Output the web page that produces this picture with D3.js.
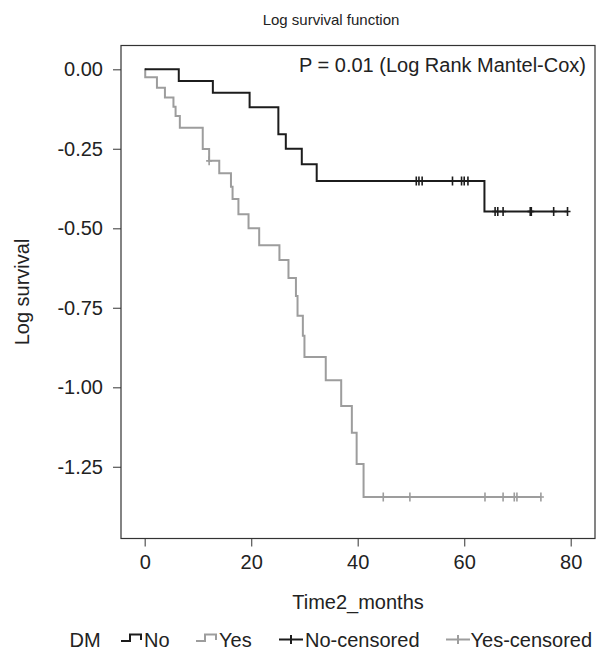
<!DOCTYPE html>
<html>
<head>
<meta charset="utf-8">
<script src="https://cdn.jsdelivr.net/npm/d3@7"></script>
<style>
  html, body { margin: 0; padding: 0; background: #fff; }
  svg { display: block; font-family: "Liberation Sans", Arial, sans-serif; }
</style>
</head>
<body>
<svg id="chart" width="606" height="654"></svg>
<script>
// ---- data ----
const noTimes   = [0, 6.4, 12.8, 19.7, 25.1, 26.5, 29.5, 32.3, 63.8];
const noLogSurv = [0, -0.037, -0.074, -0.119, -0.204, -0.250, -0.299, -0.351, -0.447];
const noEnd = 79.4;
const yesTimes   = [0, 0.1, 2.3, 3.8, 5.4, 5.8, 6.6, 10.9, 12.1, 14.0, 16.2, 16.5, 17.6, 19.5, 21.5, 25.3, 27.0, 28.4, 28.7, 29.7, 30.0, 34.0, 36.9, 38.9, 39.8, 41.1];
const yesLogSurv = [0, -0.025, -0.058, -0.089, -0.118, -0.147, -0.184, -0.251, -0.288, -0.327, -0.369, -0.408, -0.456, -0.500, -0.553, -0.600, -0.656, -0.713, -0.775, -0.838, -0.905, -0.978, -1.059, -1.143, -1.241, -1.345];
const yesEnd = 74.4;
const noCensored  = [51.0, 51.5, 52.1, 57.8, 59.5, 60.0, 60.7, 65.8, 66.3, 67.3, 72.4, 72.6, 76.8, 79.4];
const yesCensored = [12.1, 44.8, 49.8, 63.9, 67.3, 69.4, 69.9, 74.4];
const xTicks = [0, 20, 40, 60, 80];
const yTicks = [0, -0.25, -0.5, -0.75, -1.0, -1.25];
const legendLabels = ["No", "Yes", "No-censored", "Yes-censored"];

// ---- layout ----
const L = 121, R = 595, T = 45.5, B = 538.5;
const black = "#1c1c1c", gray = "#9d9d9d", textCol = "#222";

const svg = d3.select("#chart");
const x = d3.scaleLinear().domain([-4.45, 84.56]).range([L, R]);
const y = d3.scaleLinear().domain([0.0748, -1.4755]).range([T, B]);

// title
svg.append("text").attr("x", 331).attr("y", 25).attr("text-anchor", "middle")
  .attr("font-size", 15).attr("fill", textCol).text("Log survival function");

// axes
const fmt = d => d3.format(".2f")(d).replace("\u2212", "-");
const yAxis = svg.append("g").attr("transform", `translate(${L},0)`)
  .call(d3.axisLeft(y).tickValues(yTicks).tickFormat(fmt).tickSize(8).tickPadding(10));
const xAxis = svg.append("g").attr("transform", `translate(0,${B})`)
  .call(d3.axisBottom(x).tickValues(xTicks).tickFormat(d3.format("d")).tickSize(8).tickPadding(8.5));
[yAxis, xAxis].forEach(g => {
  g.select(".domain").remove();
  g.selectAll(".tick line").attr("stroke", "#555").attr("stroke-width", 1.2);
  g.selectAll(".tick text").attr("font-size", 20).attr("fill", textCol)
    .attr("font-family", '"Liberation Sans", Arial, sans-serif');
});

// frame
svg.append("rect").attr("x", L).attr("y", T).attr("width", R - L).attr("height", B - T)
  .attr("fill", "none").attr("stroke", "#333").attr("stroke-width", 1.2);

// axis titles
svg.append("text").attr("x", (L + R) / 2).attr("y", 609).attr("text-anchor", "middle")
  .attr("font-size", 20).attr("fill", textCol).text("Time2_months");
svg.append("text").attr("transform", `translate(29,${(T + B) / 2}) rotate(-90)`)
  .attr("text-anchor", "middle").attr("font-size", 20).attr("fill", textCol).text("Log survival");

// P-value
svg.append("text").attr("x", 586).attr("y", 72).attr("text-anchor", "end")
  .attr("font-size", 20).attr("fill", textCol).text("P = 0.01 (Log Rank Mantel-Cox)");

// curves
const line = d3.line().x(d => x(d[0])).y(d => y(d[1])).curve(d3.curveStepAfter);
function pts(times, vals, end) {
  const p = times.map((t, i) => [t, vals[i]]);
  p.push([end, vals[vals.length - 1]]);
  return p;
}
function levelAt(times, vals, t) {
  const i = d3.bisectRight(times, t) - 1;
  return vals[Math.max(0, i)];
}
const series = [
  { times: noTimes, vals: noLogSurv, end: noEnd, cens: noCensored, color: black },
  { times: yesTimes, vals: yesLogSurv, end: yesEnd, cens: yesCensored, color: gray }
];
series.slice().reverse().forEach(s => {
  svg.append("path").attr("d", line(pts(s.times, s.vals, s.end)))
    .attr("fill", "none").attr("stroke", s.color).attr("stroke-width", 2);
});
series.forEach(s => {
  svg.append("g").selectAll("path").data(s.cens).join("path")
    .attr("d", t => {
      const cx = x(t), cy = y(levelAt(s.times, s.vals, t));
      return `M${cx - 3},${cy}H${cx + 3}M${cx},${cy - 4.5}V${cy + 4.5}`;
    })
    .attr("fill", "none").attr("stroke", s.color).attr("stroke-width", 1.6);
});

// legend
const lg = svg.append("g");
const ly = 647;
lg.append("text").attr("x", 69.5).attr("y", ly).attr("font-size", 20).attr("fill", textCol).text("DM");
const stepSym = (x0, c) => lg.append("path")
  .attr("d", `M${x0},641H${x0 + 9}V634.5H${x0 + 20}V640`)
  .attr("fill", "none").attr("stroke", c).attr("stroke-width", 2);
const plusSym = (x0, c) => lg.append("path")
  .attr("d", `M${x0},639.5H${x0 + 24}M${x0 + 12},635V644`)
  .attr("fill", "none").attr("stroke", c).attr("stroke-width", 2);
stepSym(121, black);
lg.append("text").attr("x", 144).attr("y", ly).attr("font-size", 20).attr("fill", textCol).text(legendLabels[0]);
stepSym(196, gray);
lg.append("text").attr("x", 219).attr("y", ly).attr("font-size", 20).attr("fill", textCol).text(legendLabels[1]);
plusSym(279, black);
lg.append("text").attr("x", 305).attr("y", ly).attr("font-size", 20).attr("fill", textCol).text(legendLabels[2]);
plusSym(446, gray);
lg.append("text").attr("x", 470.5).attr("y", ly).attr("font-size", 20).attr("fill", textCol).text(legendLabels[3]);
</script>
</body>
</html>
